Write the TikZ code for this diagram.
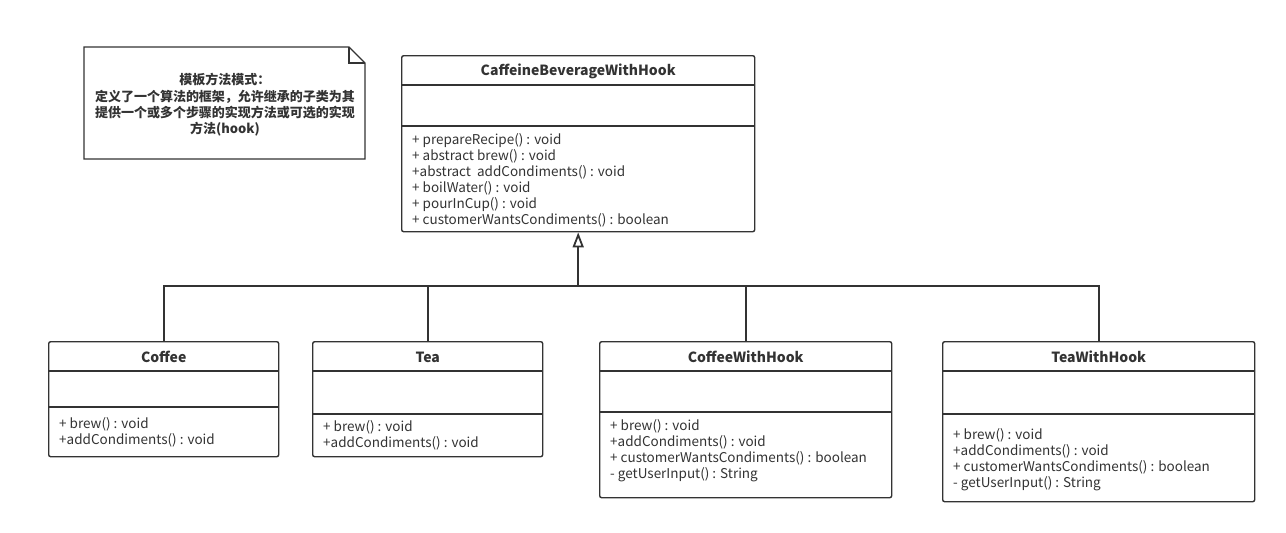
\documentclass[tikz,border=0pt]{standalone}
\usepackage{fontspec}
\setmainfont{Noto Sans CJK SC}
\usetikzlibrary{arrows.meta}
\definecolor{umlline}{HTML}{333333}
\tikzset{%
    cls/.style={draw=umlline, line width=1.4pt, rounded corners=2pt, anchor=north west, inner sep=0pt},
    ttl/.style={font=\fontsize{14}{16}\selectfont\bfseries, text=umlline},
    mth/.style={anchor=west, inner sep=0pt, font=\fontsize{13.5}{16}\selectfont, text=umlline},
    sep/.style={draw=umlline, line width=1.4pt},
    inh/.style={draw=umlline, line width=1.8pt}
}

\begin{document}
\begin{tikzpicture}[x=1pt, y=-1pt]
    \useasboundingbox[fill=white] (0,0) rectangle (1286,533);

    % note
    \draw[sep] (84,47) -- (349,47) -- (365,63) -- (365,159) -- (84,159) -- cycle;
    \draw[sep] (349,47) -- (349,63) -- (365,63);
    \node[align=center, text=umlline, font=\fontsize{13}{16.3}\selectfont\bfseries] (note) at (225,105)
        {模板方法模式：\\定义了一个算法的框架，允许继承的子类为其\\提供一个或多个步骤的实现方法或可选的实现\\方法(hook)};

    % classes
    \node[cls, minimum width=353, minimum height=176] (base) at (401,55) {};
    \node[cls, minimum width=230, minimum height=115] (cof) at (48,341) {};
    \node[cls, minimum width=230, minimum height=115] (tea) at (312,341) {};
    \node[cls, minimum width=292, minimum height=156] (cwh) at (599,341) {};
    \node[cls, minimum width=312, minimum height=160] (twh) at (942,341) {};

    \node[ttl] (baset) at (base.north |- 0,71) {CaffeineBeverageWithHook};
    \node[ttl] (coft) at (cof.north |- 0,357) {Coffee};
    \node[ttl] (teat) at (tea.north |- 0,357) {Tea};
    \node[ttl] (cwht) at (cwh.north |- 0,357) {CoffeeWithHook};
    \node[ttl] (twht) at (twh.north |- 0,357) {TeaWithHook};

    \draw[sep] (base.west |- 0,85) -- (base.east |- 0,85);
    \draw[sep] (base.west |- 0,126) -- (base.east |- 0,126);
    \draw[sep] (cof.west |- 0,371) -- (cof.east |- 0,371);
    \draw[sep] (cof.west |- 0,407) -- (cof.east |- 0,407);
    \draw[sep] (tea.west |- 0,371) -- (tea.east |- 0,371);
    \draw[sep] (tea.west |- 0,414) -- (tea.east |- 0,414);
    \draw[sep] (cwh.west |- 0,371) -- (cwh.east |- 0,371);
    \draw[sep] (cwh.west |- 0,412) -- (cwh.east |- 0,412);
    \draw[sep] (twh.west |- 0,371) -- (twh.east |- 0,371);
    \draw[sep] (twh.west |- 0,414) -- (twh.east |- 0,414);

    % methods
    \foreach \m [count=\i] in {+ prepareRecipe() : void, + abstract brew() : void,
            +abstract\ \ addCondiments() : void, + boilWater() : void,
            + pourInCup() : void, + customerWantsCondiments() : boolean}
        \node[mth] (basem\i) at (412,124.5+16*\i) {\m};
    \foreach \m [count=\i] in {+ brew() : void, +addCondiments() : void}
        \node[mth] (cofm\i) at (59,408.5+16*\i) {\m};
    \foreach \m [count=\i] in {+ brew() : void, +addCondiments() : void}
        \node[mth] (team\i) at (323,411.5+16*\i) {\m};
    \foreach \m [count=\i] in {+ brew() : void, +addCondiments() : void,
            + customerWantsCondiments() : boolean, - getUserInput() : String}
        \node[mth] (cwhm\i) at (610,410.5+16*\i) {\m};
    \foreach \m [count=\i] in {+ brew() : void, +addCondiments() : void,
            + customerWantsCondiments() : boolean, - getUserInput() : String}
        \node[mth] (twhm\i) at (953,419.5+16*\i) {\m};

    % inheritance
    \coordinate (bus) at (0,286);
    \draw[inh] (cof.north) -- (cof.north |- bus) -- (twh.north |- bus) -- (twh.north);
    \draw[inh] (tea.north) -- (tea.north |- bus);
    \draw[inh] (cwh.north) -- (cwh.north |- bus);
    \draw[inh, -{Triangle[open, length=15pt, width=11pt]}] (base.south |- bus) -- (base.south);
\end{tikzpicture}
\end{document}
